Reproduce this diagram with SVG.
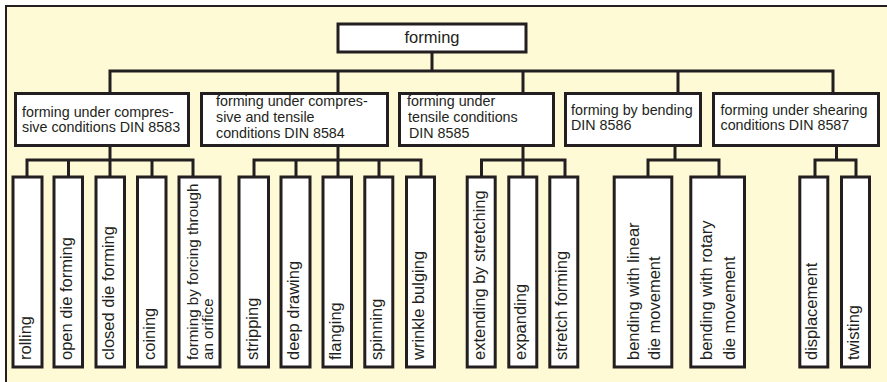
<svg xmlns="http://www.w3.org/2000/svg" width="887" height="382" viewBox="0 0 887 382">
<style>
.bg{fill:#fffad6;stroke:#231f20;stroke-width:2}
.box{fill:#ffffff;stroke:#231f20;stroke-width:3}
.con{fill:none;stroke:#231f20;stroke-width:3;stroke-linejoin:miter;stroke-linecap:butt}
text{font-family:"Liberation Sans",Arial,sans-serif;fill:#231f20}
.t0{font-size:16.5px}
.t1{font-size:14.3px}
.t2{font-size:16.5px}
.t3{font-size:15.2px}
</style>
<rect class="bg" x="6" y="6" width="900" height="400"/>
<g id="connectors">
<path class="con" d="M432 53V71M110 92V71H833V92M338 71V92M523 71V92M678 71V92"/>
<path class="con" d="M110 147V160M27 176V160H193V176M68.5 160V176M110 160V176M152 160V176"/>
<path class="con" d="M338 147V160M254 176V160H421V176M296 160V176M338 160V176M379 160V176"/>
<path class="con" d="M523 147V160M481.5 176V160H565V176M523 160V176"/>
<path class="con" d="M675 147V160M648 176V160H719V176"/>
<path class="con" d="M836.5 147V160M815 176V160H856V176"/>
</g>
<g id="root"><rect class="box" x="338" y="24" width="188" height="28"/><text class="t0" x="432" y="43" text-anchor="middle">forming</text></g>
<g id="n1"><rect class="box" x="15.5" y="93.5" width="173" height="52"/><text class="t1" x="22" y="117">forming under compres-</text><text class="t1" x="22" y="131.5">sive conditions DIN 8583</text></g>
<g id="n2"><rect class="box" x="201.5" y="93.5" width="186" height="52"/><text class="t1" x="216" y="106">forming under compres-</text><text class="t1" x="216" y="122">sive and tensile</text><text class="t1" x="216" y="138">conditions DIN 8584</text></g>
<g id="n3"><rect class="box" x="399.5" y="93.5" width="154" height="52"/><text class="t1" x="407" y="106">forming under</text><text class="t1" x="408" y="122">tensile conditions</text><text class="t1" x="409" y="138">DIN 8585</text></g>
<g id="n4"><rect class="box" x="565.5" y="93.5" width="135" height="52"/><text class="t1" x="571" y="114.5">forming by bending</text><text class="t1" x="571" y="130">DIN 8586</text></g>
<g id="n5"><rect class="box" x="713.5" y="93.5" width="165" height="52"/><text class="t1" x="720.5" y="115">forming under shearing</text><text class="t1" x="720.5" y="130">conditions DIN 8587</text></g>
<g id="l1"><rect class="box" x="13" y="177" width="29" height="190"/><text class="t2" transform="translate(31 360) rotate(-90)">rolling</text></g>
<g id="l2"><rect class="box" x="54" y="177" width="28.5" height="190"/><text class="t2" transform="translate(72 360) rotate(-90)">open die forming</text></g>
<g id="l3"><rect class="box" x="96" y="177" width="28.5" height="190"/><text class="t2" transform="translate(114 360) rotate(-90)">closed die forming</text></g>
<g id="l4"><rect class="box" x="137.5" y="177" width="28.5" height="190"/><text class="t2" transform="translate(155 360) rotate(-90)">coining</text></g>
<g id="l5"><rect class="box" x="179" y="177" width="41" height="190"/><text class="t3" transform="translate(198 360) rotate(-90)">forming by forcing through</text><text class="t3" transform="translate(213 360) rotate(-90)">an orifice</text></g>
<g id="l6"><rect class="box" x="239" y="177" width="29.5" height="190"/><text class="t2" transform="translate(257.5 360) rotate(-90)">stripping</text></g>
<g id="l7"><rect class="box" x="281" y="177" width="29" height="190"/><text class="t2" transform="translate(299 360) rotate(-90)">deep drawing</text></g>
<g id="l8"><rect class="box" x="323" y="177" width="28.5" height="190"/><text class="t2" transform="translate(341 360) rotate(-90)">flanging</text></g>
<g id="l9"><rect class="box" x="364.8" y="177" width="28" height="190"/><text class="t2" transform="translate(382 360) rotate(-90)">spinning</text></g>
<g id="l10"><rect class="box" x="406.5" y="177" width="28" height="190"/><text class="t2" transform="translate(424 360) rotate(-90)">wrinkle bulging</text></g>
<g id="l11"><rect class="box" x="467.2" y="177" width="28" height="190"/><text class="t2" transform="translate(484.5 360) rotate(-90)">extending by stretching</text></g>
<g id="l12"><rect class="box" x="508.8" y="177" width="28" height="190"/><text class="t2" transform="translate(526 360) rotate(-90)">expanding</text></g>
<g id="l13"><rect class="box" x="549.8" y="177" width="28" height="190"/><text class="t2" transform="translate(567 360) rotate(-90)">stretch forming</text></g>
<g id="l14"><rect class="box" x="614.2" y="177" width="57.6" height="190"/><text class="t2" transform="translate(638.5 360) rotate(-90)">bending with linear</text><text class="t2" transform="translate(660 360) rotate(-90)">die movement</text></g>
<g id="l15"><rect class="box" x="690.8" y="177" width="53.7" height="190"/><text class="t2" transform="translate(712 360) rotate(-90)">bending with rotary</text><text class="t2" transform="translate(735 360) rotate(-90)">die movement</text></g>
<g id="l16"><rect class="box" x="799.8" y="177" width="28" height="190"/><text class="t2" transform="translate(817 360) rotate(-90)">displacement</text></g>
<g id="l17"><rect class="box" x="841.5" y="177" width="28" height="190"/><text class="t2" transform="translate(859 360) rotate(-90)">twisting</text></g>
</svg>
